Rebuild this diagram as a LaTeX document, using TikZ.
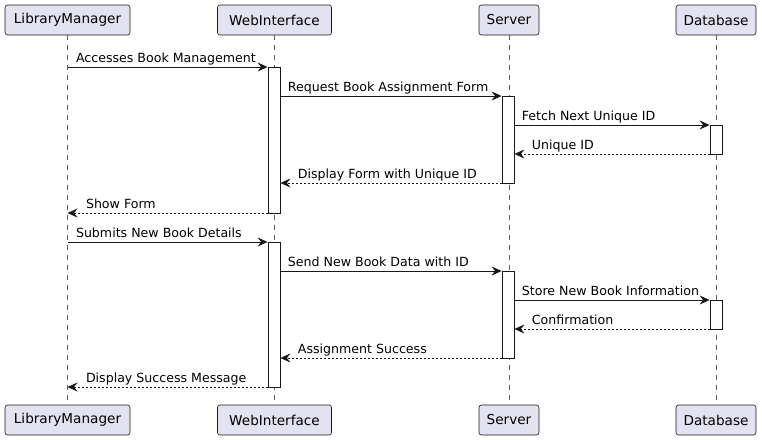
\documentclass[tikz,border=0pt]{standalone}
\usepackage{fontspec}
\setmainfont{DejaVu Sans}
\usepackage{tikz}
\usetikzlibrary{arrows.meta}
\definecolor{partfill}{HTML}{E2E2F0}
\definecolor{linecol}{HTML}{181818}

\begin{document}
\begin{tikzpicture}[x=1pt,y=-1pt,>={Stealth[length=10pt,width=9pt,inset=3.5pt]},
  part node/.style={rectangle,rounded corners=2.5pt,fill=partfill,draw=linecol,line width=0.6pt,
    minimum height=30pt,inner xsep=0pt,font=\fontsize{13.6}{16}\selectfont},
  act node/.style={rectangle,fill=white,draw=linecol,line width=0.8pt,minimum width=12pt,inner sep=0pt},
  life/.style={draw=linecol!70,line width=0.6pt,dash pattern=on 5pt off 5pt},
  msg/.style={->,draw=linecol,line width=1pt},
  reply/.style={msg,dash pattern=on 2pt off 2pt},
  lbl/.style={anchor=base west,inner sep=0pt,yshift=5pt,text=black,font=\fontsize{12.6}{15}\selectfont}]
  \useasboundingbox (0,0) rectangle (762,440);

  \node[part node,minimum width=125pt] (lmT) at (67.5,20) {LibraryManager};
  \node[part node,minimum width=114pt] (wiT) at (274.5,20) {WebInterface};
  \node[part node,minimum width=60pt]  (svT) at (509,20) {Server};
  \node[part node,minimum width=80pt]  (dbT) at (716,20) {Database};
  \node[part node,minimum width=125pt] (lmB) at (67.5,420) {LibraryManager};
  \node[part node,minimum width=114pt] (wiB) at (274.5,420) {WebInterface};
  \node[part node,minimum width=60pt]  (svB) at (509,420) {Server};
  \node[part node,minimum width=80pt]  (dbB) at (716,420) {Database};

  \path[life] (lmT.south) -- (lmB.north);
  \path[life] (wiT.south) -- (wiB.north);
  \path[life] (svT.south) -- (svB.north);
  \path[life] (dbT.south) -- (dbB.north);

  \node[act node,minimum height=146pt] (w1) at (274,140) {};
  \node[act node,minimum height=87pt]  (s1) at (508,139.5) {};
  \node[act node,minimum height=29pt]  (d1) at (716,139.5) {};
  \node[act node,minimum height=145pt] (w2) at (274,314.5) {};
  \node[act node,minimum height=87pt]  (s2) at (508,314.5) {};
  \node[act node,minimum height=29pt]  (d2) at (716,314.5) {};

  \coordinate (r1) at (0,67);
  \coordinate (r2) at (0,96);
  \coordinate (r3) at (0,125);
  \coordinate (r4) at (0,154);
  \coordinate (r5) at (0,183);
  \coordinate (r6) at (0,213);
  \coordinate (r7) at (0,242);
  \coordinate (r8) at (0,271);
  \coordinate (r9) at (0,300);
  \coordinate (r10) at (0,329);
  \coordinate (r11) at (0,358);
  \coordinate (r12) at (0,387);

  \draw[msg] (lmT |- r1) -- (w1.west |- r1) node[lbl,pos=0,xshift=8pt] {Accesses Book Management};
  \draw[msg] (w1.east |- r2) -- (s1.west |- r2) node[lbl,pos=0,xshift=7pt] {Request Book Assignment Form};
  \draw[msg] (s1.east |- r3) -- (d1.west |- r3) node[lbl,pos=0,xshift=7pt] {Fetch Next Unique ID};
  \draw[reply] (d1.west |- r4) -- (s1.east |- r4) node[lbl,pos=1,xshift=17pt] {Unique ID};
  \draw[reply] (s1.west |- r5) -- (w1.east |- r5) node[lbl,pos=1,xshift=17pt] {Display Form with Unique ID};
  \draw[reply] (w1.west |- r6) -- (lmT |- r6) node[lbl,pos=1,xshift=18pt] {Show Form};
  \draw[msg] (lmT |- r7) -- (w2.west |- r7) node[lbl,pos=0,xshift=8pt] {Submits New Book Details};
  \draw[msg] (w2.east |- r8) -- (s2.west |- r8) node[lbl,pos=0,xshift=7pt] {Send New Book Data with ID};
  \draw[msg] (s2.east |- r9) -- (d2.west |- r9) node[lbl,pos=0,xshift=7pt] {Store New Book Information};
  \draw[reply] (d2.west |- r10) -- (s2.east |- r10) node[lbl,pos=1,xshift=17pt] {Confirmation};
  \draw[reply] (s2.west |- r11) -- (w2.east |- r11) node[lbl,pos=1,xshift=17pt] {Assignment Success};
  \draw[reply] (w2.west |- r12) -- (lmT |- r12) node[lbl,pos=1,xshift=18pt] {Display Success Message};
\end{tikzpicture}
\end{document}
